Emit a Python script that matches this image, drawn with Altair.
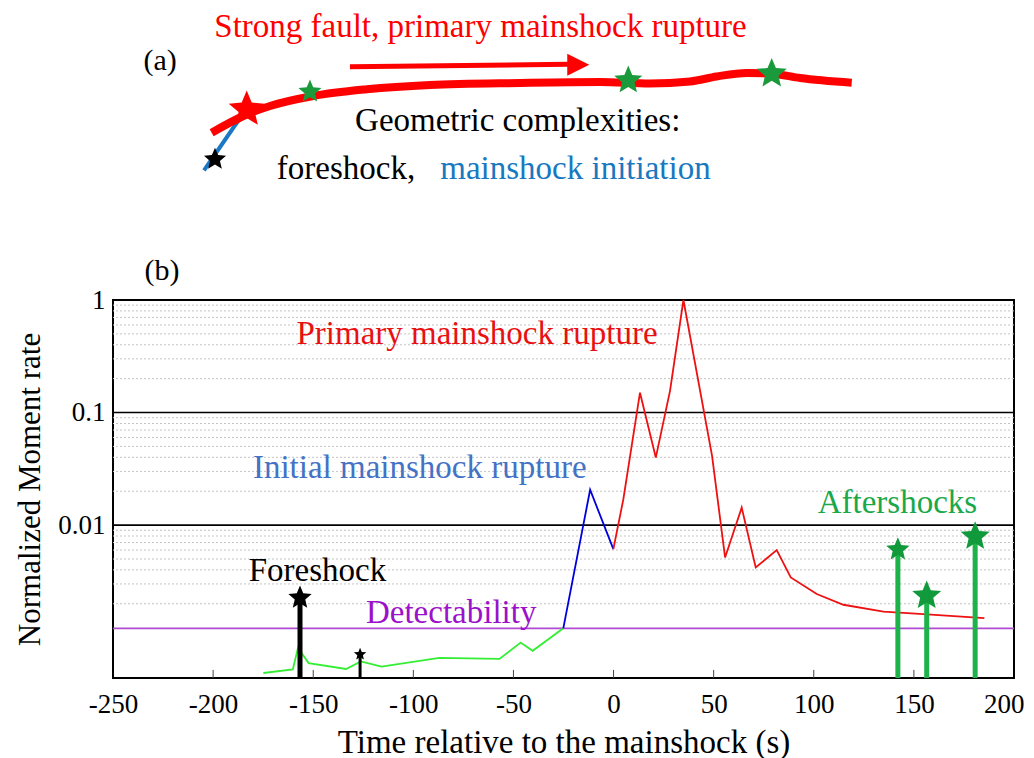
import altair as alt
import pandas as pd

FONT = "Liberation Serif"

# ---------------- Panel (b): moment-rate data ----------------
pre_t = [-174.9, -160.2, -157.6, -152.3, -133.6, -126.2, -115.9, -87.0, -57.0, -46.4, -40.4, -25.1]
pre_v = [0.000485, 0.000522, 0.000809, 0.000594, 0.000527, 0.000615, 0.000552, 0.00066,
         0.000647, 0.000904, 0.000764, 0.00121]
init_t = [-25.1, -11.7, -0.1]
init_v = [0.00121, 0.0206, 0.00612]
main_t = [-0.1, 4.9, 13.2, 21.1, 28.2, 34.9, 49.2, 55.7, 64.0, 71.0, 81.5, 88.5, 101.5,
          114.8, 134.8, 154.7, 185.2]
main_v = [0.00612, 0.0170, 0.150, 0.0398, 0.156, 1.0, 0.0412, 0.00516, 0.0143, 0.0042,
          0.0060, 0.00343, 0.00244, 0.00196, 0.0017, 0.00162, 0.00149]

fore_t = [-156.6, -126.6]
fore_v = [0.00226, 0.000711]
after_t = [142.0, 156.4, 180.6]
after_v = [0.00607, 0.00236, 0.00792]
detect_v = [0.00121]

x_tick_vals = [-250, -200, -150, -100, -50, 0, 50, 100, 150, 200]
inner_tick_vals = [-200, -150, -100, -50, 0, 50, 100, 150]
y_tick_vals = [1, 0.1, 0.01]
major_grid = [0.1, 0.01]
minor_grid = [0.9, 0.8, 0.7, 0.6, 0.5, 0.4, 0.3, 0.2,
              0.09, 0.08, 0.07, 0.06, 0.05, 0.04, 0.03, 0.02,
              0.009, 0.008, 0.007, 0.006, 0.005, 0.004, 0.003, 0.002]
Y_MIN, Y_MAX = 0.000438, 1.0

b_labels = ["Primary mainshock rupture", "Initial mainshock rupture", "Foreshock",
            "Detectability", "Aftershocks", "(b)"]
b_label_t = [-68.2, -96.8, -147.9, -81.1, 141.8, -225.5]
b_label_v = [0.499, 0.0324, 0.00393, 0.00164, 0.0158, 1.81]
b_label_col = ["#e81010", "#4472c4", "#000000", "#9b11c9", "#1aa84a", "#000000"]

# ---------------- Panel (a): schematic (arbitrary 0-100 map units) ----------------
fault_x = [10.95, 14.46, 17.43, 22.23, 28.16, 35.18, 45.17, 54.05, 59.60, 64.04, 67.0,
           70.33, 73.11, 76.26, 81.99]
fault_y = [48.95, 55.43, 59.30, 63.18, 65.78, 67.44, 68.22, 68.60, 68.02, 68.80, 70.74,
           72.09, 71.82, 70.16, 68.33]
init_x = [10.10, 14.10]
init_y = [34.38, 54.65]
arrow_x = [26.30, 50.50]
arrow_y = [74.53, 75.47]
head_x = [51.64]
head_y = [75.31]
star_names = ["foreshock", "hypocenter", "g1", "g2", "g3"]
star_x = [11.32, 14.84, 21.86, 57.19, 73.11]
star_y = [38.64, 57.95, 64.84, 69.26, 71.82]

a_labels = ["Strong fault, primary mainshock rupture", "(a)", "Geometric complexities:",
            "foreshock,", "mainshock initiation"]
a_label_x = [40.79, 5.22, 44.92, 25.86, 51.33]
a_label_y = [89.92, 76.74, 53.49, 34.88, 34.88]
a_label_col = ["#ff0000", "#000000", "#000000", "#000000", "#1878c0"]

STAR = ("M0,-1L0.265,-0.364L0.951,-0.309L0.428,0.139L0.588,0.809L0,0.45"
        "L-0.588,0.809L-0.428,0.139L-0.951,-0.309L-0.265,-0.364Z")
HEAD = "M-1,-1L1,0L-1,1Z"

# ================= Panel (b) =================
XS = alt.Scale(domain=[-250, 200], nice=False, zero=False)
YS = alt.Scale(type="log", domain=[Y_MIN, Y_MAX], nice=False)
XA = alt.Axis(values=x_tick_vals, labelExpr="'' + datum.value", title="Time relative to the mainshock (s)",
              ticks=False, domain=False, grid=False, labelFont=FONT, labelFontSize=27,
              labelColor="black", labelPadding=13, labelFlush=False, labelOverlap=False,
              labelAlign={"condition": {"test": "datum.value == 200", "value": "right"}, "value": "center"},
              labelOffset={"condition": {"test": "datum.value == 200", "value": 10}, "value": 0},
              titleFont=FONT, titleFontSize=33, titleFontWeight="normal", titleColor="black",
              titlePadding=9)
YA = alt.Axis(values=y_tick_vals, labelExpr="'' + datum.value", title="Normalized Moment rate",
              ticks=False, domain=False, grid=False, labelFont=FONT, labelFontSize=27,
              labelColor="black", labelPadding=8, labelOverlap=False,
              titleFont=FONT, titleFontSize=31, titleFontWeight="normal", titleColor="black",
              titlePadding=11)


def X(f="t"):
    return alt.X(f"{f}:Q", scale=XS, axis=XA)


def Y(f="v"):
    return alt.Y(f"{f}:Q", scale=YS, axis=YA)


minor_df = pd.DataFrame({"v": minor_grid})
major_df = pd.DataFrame({"v": major_grid})
det_df = pd.DataFrame({"v": detect_v})
itick_df = pd.DataFrame({"t": inner_tick_vals, "v": [Y_MIN] * len(inner_tick_vals),
                         "v2": [Y_MIN * 1.18] * len(inner_tick_vals)})

seg_rows = []
k = 0
for name, ts, vs in [("pre", pre_t, pre_v), ("init", init_t, init_v), ("main", main_t, main_v)]:
    for t, v in zip(ts, vs):
        seg_rows.append({"t": t, "v": v, "seg": name, "i": k})
        k += 1
line_df = pd.DataFrame(seg_rows)

layers_b = [
    alt.Chart(minor_df).mark_rule(color="#c4c4c4", strokeDash=[2, 2], strokeWidth=1).encode(y=Y()),
    alt.Chart(major_df).mark_rule(color="black", strokeWidth=1.6).encode(y=Y()),
    alt.Chart(itick_df).mark_rule(color="#444444", strokeWidth=1).encode(x=X(), y=Y(), y2="v2:Q"),
    alt.Chart(det_df).mark_rule(color="#b04ad0", strokeWidth=1.8).encode(y=Y()),
    alt.Chart(line_df).mark_line(strokeWidth=1.8).encode(
        x=X(), y=Y(), order="i:Q",
        color=alt.Color("seg:N", scale=alt.Scale(domain=["pre", "init", "main"],
                                                 range=["#33ee33", "#0000dd", "#ee1111"]),
                        legend=None)),
]

fore_w = [5, 3]
fore_s = [600, 170]
for t, v, w, s in zip(fore_t, fore_v, fore_w, fore_s):
    d = pd.DataFrame({"t": [t], "v": [v], "v0": [Y_MIN]})
    layers_b.append(alt.Chart(d).mark_rule(color="black", strokeWidth=w).encode(x=X(), y=Y(), y2="v0:Q"))
    layers_b.append(alt.Chart(d).mark_point(shape=STAR, filled=True, size=s, color="black",
                                            opacity=1, strokeWidth=0).encode(x=X(), y=Y()))

after_s = [600, 930, 930]
for t, v, s in zip(after_t, after_v, after_s):
    d = pd.DataFrame({"t": [t], "v": [v], "v0": [Y_MIN]})
    layers_b.append(alt.Chart(d).mark_rule(color="#1db34a", strokeWidth=5).encode(x=X(), y=Y(), y2="v0:Q"))
    layers_b.append(alt.Chart(d).mark_point(shape=STAR, filled=True, size=s, color="#119a3c",
                                            opacity=1, strokeWidth=0).encode(x=X(), y=Y()))

for txt, t, v, c in zip(b_labels, b_label_t, b_label_v, b_label_col):
    d = pd.DataFrame({"t": [t], "v": [v], "txt": [txt]})
    layers_b.append(alt.Chart(d).mark_text(font=FONT, fontSize=33 if txt != "(b)" else 30,
                                           color=c, align="center", baseline="middle").encode(
        x=X(), y=Y(), text="txt:N"))

bottom = alt.layer(*layers_b).properties(
    width=901, height=378, view=alt.ViewBackground(stroke="black", strokeWidth=2))

# ================= Panel (a) =================
TX = alt.Scale(domain=[0, 100], nice=False, zero=False)
TY = alt.Scale(domain=[0, 100], nice=False, zero=False)


def ax(f="x"):
    return alt.X(f"{f}:Q", scale=TX, axis=None)


def ay(f="y"):
    return alt.Y(f"{f}:Q", scale=TY, axis=None)


fault_df = pd.DataFrame({"x": fault_x, "y": fault_y})
init_df = pd.DataFrame({"x": init_x, "y": init_y})
arrow_df = pd.DataFrame({"x": [arrow_x[0]], "y": [arrow_y[0]], "x2": [arrow_x[1]], "y2": [arrow_y[1]]})
head_df = pd.DataFrame({"x": head_x, "y": head_y})

layers_a = [
    alt.Chart(init_df).mark_line(color="#1a78c4", strokeWidth=4).encode(x=ax(), y=ay()),
    alt.Chart(fault_df).mark_line(color="#ff0000", strokeWidth=8, interpolate="monotone",
                                  strokeCap="butt").encode(x=ax(), y=ay()),
    alt.Chart(arrow_df).mark_rule(color="#ff0000", strokeWidth=5).encode(
        x=ax(), y=ay(), x2="x2:Q", y2="y2:Q"),
    alt.Chart(head_df).mark_point(shape=HEAD, filled=True, size=484, color="#ff0000",
                                  opacity=1, strokeWidth=0).encode(x=ax(), y=ay()),
]

star_col = {"foreshock": "black", "hypocenter": "#ff0000", "g1": "#1b9a3b", "g2": "#1b9a3b", "g3": "#1b9a3b"}
star_size = {"foreshock": 540, "hypocenter": 1430, "g1": 585, "g2": 870, "g3": 1000}
for n, x, y in zip(star_names, star_x, star_y):
    d = pd.DataFrame({"x": [x], "y": [y]})
    layers_a.append(alt.Chart(d).mark_point(shape=STAR, filled=True, size=star_size[n],
                                            color=star_col[n], opacity=1, strokeWidth=0).encode(
        x=ax(), y=ay()))

for txt, x, y, c in zip(a_labels, a_label_x, a_label_y, a_label_col):
    d = pd.DataFrame({"x": [x], "y": [y], "txt": [txt]})
    layers_a.append(alt.Chart(d).mark_text(font=FONT, fontSize=33 if txt != "(a)" else 30,
                                           color=c, align="center", baseline="middle").encode(
        x=ax(), y=ay(), text="txt:N"))

top = alt.layer(*layers_a).properties(
    width=901, height=258, view=alt.ViewBackground(fill="white", stroke="transparent"))

chart = alt.vconcat(top, bottom, spacing=41, bounds="flush").properties(
    padding={"left": 5, "top": -8, "right": 0, "bottom": 0},
    background="white",
).configure_view(stroke="transparent")

chart.save("out.html", embed_options={"renderer": "svg", "actions": False})
